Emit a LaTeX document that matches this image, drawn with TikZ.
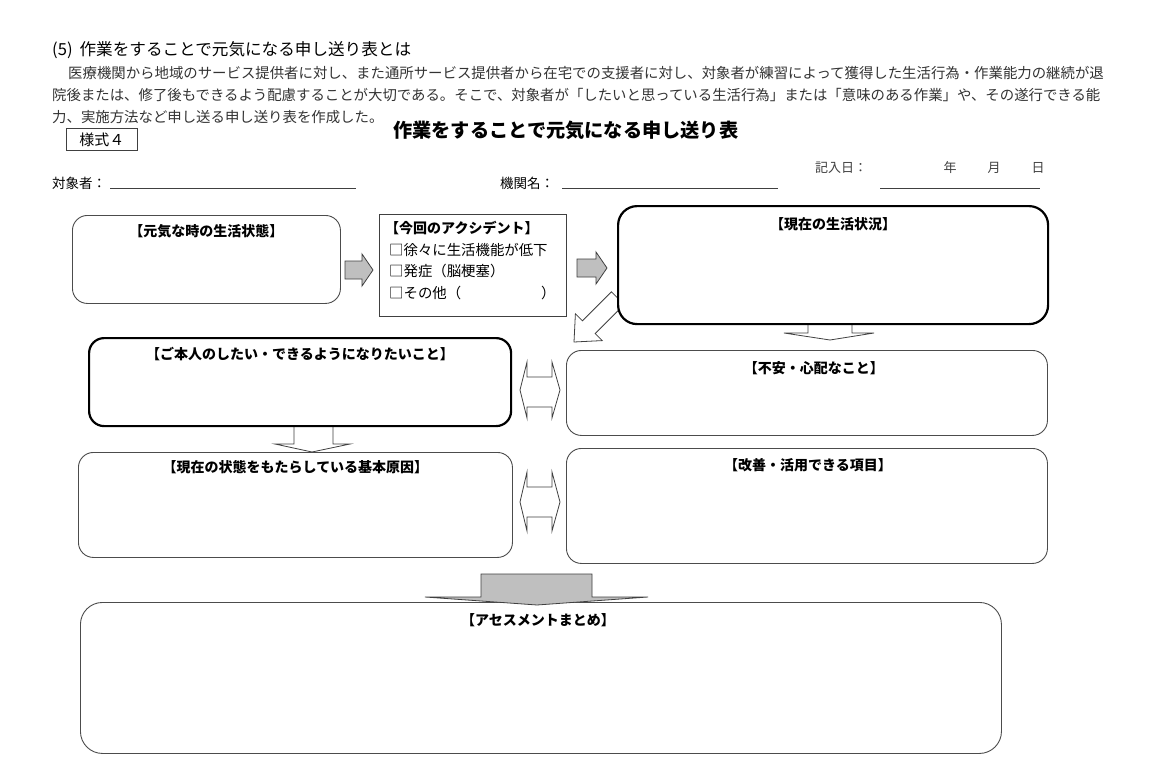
\documentclass[tikz,border=0pt]{standalone}
\usepackage{fontspec}
\setmainfont{Noto Sans CJK JP}
\usetikzlibrary{calc}
\begin{document}
\begin{tikzpicture}[x=1pt,y=-1pt,
  thinbox/.style={draw=black!70, line width=0.9pt, rounded corners=15pt, fill=white, inner sep=0pt, anchor=north west},
  thickbox/.style={draw=black, line width=2.2pt, rounded corners=19pt, fill=white, inner sep=0pt, anchor=north west},
  plainbox/.style={draw=black!75, line width=0.9pt, fill=white, inner sep=0pt, anchor=north west},
  ttl/.style={font=\fontsize{14}{16}\selectfont\bfseries, inner sep=0pt},
  body/.style={font=\fontsize{14.4}{16}\selectfont, text=black!80, inner sep=0pt, anchor=west},
  item/.style={font=\fontsize{14.4}{16}\selectfont, inner sep=0pt, anchor=west},
  small/.style={font=\fontsize{13}{15}\selectfont, text=black!75, inner sep=0pt},
  wblock/.style={draw=black!75, line width=0.8pt, fill=white, line join=miter},
  gblock/.style={draw=black!75, line width=0.8pt, fill=black!25, line join=miter},
  uline/.style={draw=black!75, line width=0.8pt}]
\fill[white] (0,0) rectangle (1154,784);
\useasboundingbox (0,0) rectangle (1154,784);

% heading and paragraph
\node[body, text=black, font=\fontsize{16.6}{18}\selectfont] (h5) at (52,50) {(5)\hspace{7pt}作業をすることで元気になる申し送り表とは};
\node[body] (p1) at (68,73) {医療機関から地域のサービス提供者に対し、また通所サービス提供者から在宅での支援者に対し、対象者が練習によって獲得した生活行為・作業能力の継続が退};
\node[body] (p2) at (52,95) {院後または、修了後もできるよう配慮することが大切である。そこで、対象者が「したいと思っている生活行為」または「意味のある作業」や、その遂行できる能};
\node[body] (p3) at (52,117) {力、実施方法など申し送る申し送り表を作成した。};

% form title
\node[plainbox, minimum width=71pt, minimum height=22pt] (yoshiki) at (66,128) {};
\node[inner sep=0pt, font=\fontsize{15}{17}\selectfont] (yoshikit) at (yoshiki.center) {様式４};
\node[inner sep=0pt, font=\fontsize{19.2}{21}\selectfont\bfseries, anchor=west] (title) at (393,130) {作業をすることで元気になる申し送り表};

% date and name lines
\node[small, anchor=west] (kinyu) at (815,168) {記入日：};
\node[small] (nen) at (950,168) {年};
\node[small] (tsuki) at (994,168) {月};
\node[small] (hi) at (1038,168) {日};
\node[inner sep=0pt, anchor=west, font=\fontsize{13.5}{15}\selectfont] (taisho) at (52,183) {対象者：};
\coordinate (u1a) at (110,188); \coordinate (u1b) at (356,188);
\draw[uline] (u1a) -- (u1b);
\node[inner sep=0pt, anchor=west, font=\fontsize{13.5}{15}\selectfont] (kikan) at (500,183) {機関名：};
\coordinate (u2a) at (562,188); \coordinate (u2b) at (778,188);
\draw[uline] (u2a) -- (u2b);
\coordinate (u3a) at (880,188); \coordinate (u3b) at (1040,188);
\draw[uline] (u3a) -- (u3b);

% arrows behind boxes
\draw[wblock] (574,342) -- (602.2,340.6) -- (595.2,333.6) -- (624.2,304.6) -- (611.4,291.8) -- (582.4,320.8) -- (575.4,313.8) -- cycle;
\draw[wblock] (808,318) -- (808,333) -- (784,333) -- (830,340) -- (874,333) -- (852,333) -- (852,318) -- cycle;
\draw[wblock] (294,420) -- (294,444) -- (275,444) -- (312,452) -- (350,444) -- (333,444) -- (333,420) -- cycle;

% boxes
\node[thinbox, minimum width=268pt, minimum height=88pt] (genki) at (72,215) {};
\node[ttl] at ($(genki.north)+(0,16)$) {【元気な時の生活状態】};

\node[plainbox, minimum width=187pt, minimum height=102pt] (acc) at (379,214) {};
\node[ttl, anchor=west] at (385,228) {【今回のアクシデント】};
\node[item] at (389,250) {□徐々に生活機能が低下};
\node[item] at (389,271) {□発症（脳梗塞）};
\node[item] at (389,293) {□その他（};
\node[item] at (541,293) {）};

\node[thickbox, minimum width=430pt, minimum height=118pt] (genzai) at (617,205) {};
\node[ttl] at ($(genzai.north)+(0,19)$) {【現在の生活状況】};

\node[thickbox, rounded corners=15pt, minimum width=422pt, minimum height=88pt] (honnin) at (88,337) {};
\node[ttl] at ($(honnin.north)+(0,17)$) {【ご本人のしたい・できるようになりたいこと】};

\node[thinbox, minimum width=481pt, minimum height=85pt] (fuan) at (566,350) {};
\node[ttl] at ($(fuan.north)+(7,18)$) {【不安・心配なこと】};

\node[thinbox, minimum width=434pt, minimum height=105pt] (gen) at (78,452) {};
\node[ttl] at ($(gen.north)+(0,15)$) {【現在の状態をもたらしている基本原因】};

\node[thinbox, minimum width=481pt, minimum height=115pt] (kaizen) at (566,448) {};
\node[ttl] at ($(kaizen.north)+(1,17)$) {【改善・活用できる項目】};

\node[thinbox, rounded corners=22pt, minimum width=921pt, minimum height=151pt] (assess) at (80,602) {};
\node[ttl] at ($(assess.north)+(-3,18)$) {【アセスメントまとめ】};

% gray arrows
\draw[gblock] (345,261) -- (362,261) -- (362,254) -- (373,270) -- (362,286) -- (362,279) -- (345,279) -- cycle;
\draw[gblock] (577,259) -- (596,259) -- (596,252) -- (607,268) -- (596,284) -- (596,277) -- (577,277) -- cycle;
\draw[gblock] (481,574) -- (592,574) -- (592,597) -- (648,597) -- (537,605) -- (425,597) -- (481,597) -- cycle;

% double arrows
\draw[wblock] (520,390) -- (527,362) -- (527,377) -- (552,377) -- (552,362) -- (560,390) -- (552,418) -- (552,407) -- (527,407) -- (527,418) -- cycle;
\draw[wblock] (520,502) -- (527,472) -- (527,487) -- (552,487) -- (552,472) -- (560,502) -- (552,531) -- (552,517) -- (527,517) -- (527,531) -- cycle;
\end{tikzpicture}
\end{document}
